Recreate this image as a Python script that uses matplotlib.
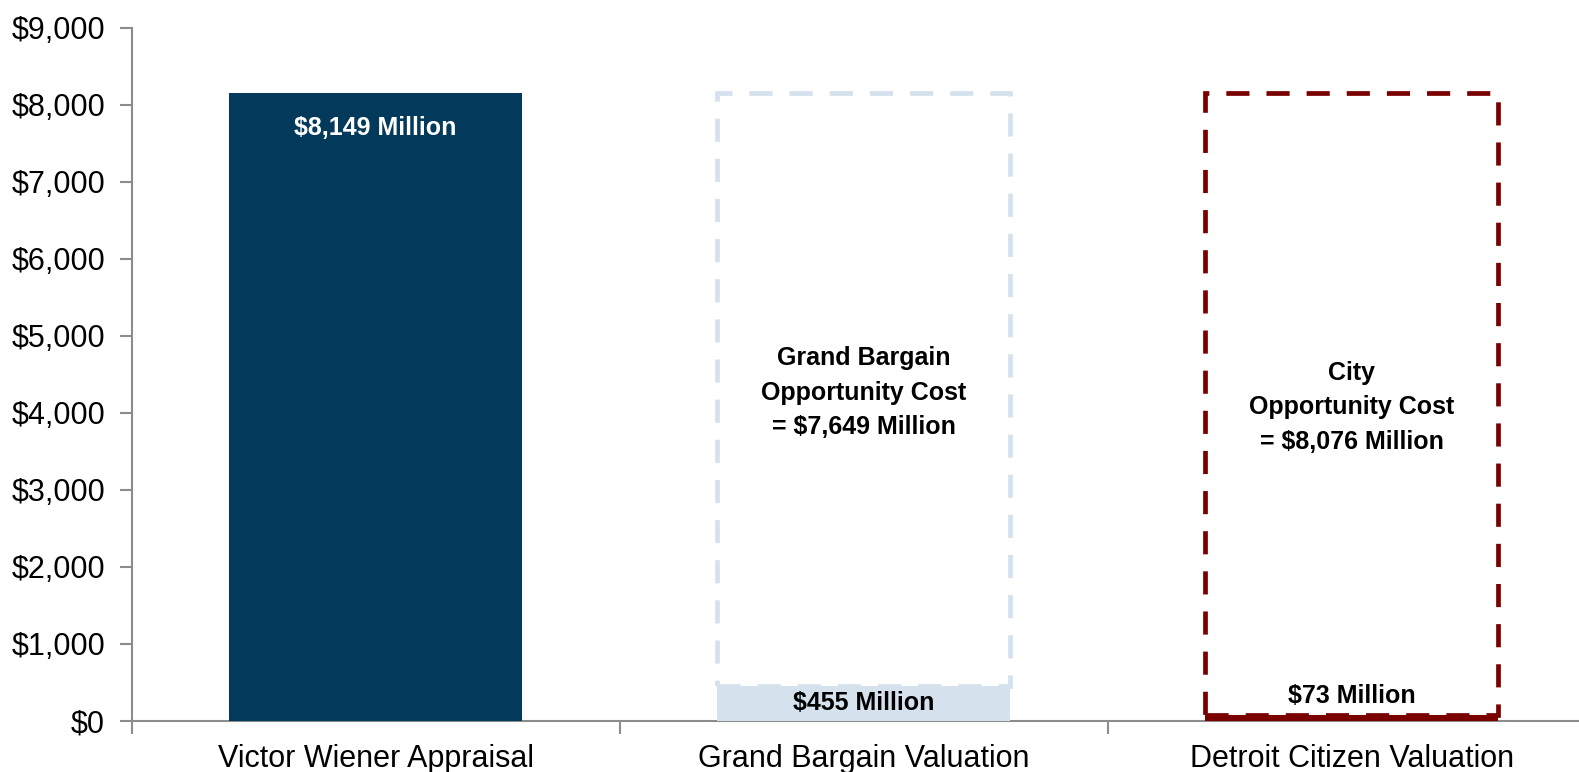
import matplotlib
matplotlib.use("Agg")
import matplotlib.pyplot as plt
from matplotlib.patches import Rectangle
from matplotlib.ticker import FuncFormatter, FixedLocator

plt.rcParams['font.family'] = ['Liberation Sans', 'DejaVu Sans']

categories = ["Victor Wiener Appraisal", "Grand Bargain Valuation", "Detroit Citizen Valuation"]
appraisal_total = 8149
valuations = [8149, 455, 73]
opportunity_costs = [None, 7649, 8076]
cost_titles = [None, "Grand Bargain", "City"]
yticks = [0, 1000, 2000, 3000, 4000, 5000, 6000, 7000, 8000, 9000]

navy = "#03395A"
light_blue = "#D5E2ED"
maroon = "#7A0000"
axis_gray = "#8C8C8C"

fig = plt.figure(figsize=(15.79, 7.72), dpi=100)
ax = fig.add_axes([0.0833, 0.0665, 0.9274, 0.8973])

width = 0.6
x = list(range(len(categories)))
dash = (0, (4.9, 3.6))

# Appraisal bar
ax.bar(x[0], valuations[0], width=width, color=navy, zorder=2)
ax.annotate(f"${valuations[0]:,} Million", xy=(x[0], valuations[0]), xytext=(0, -25),
            textcoords="offset points", ha="center", va="center",
            color="white", fontsize=18, fontweight="bold")

# Grand Bargain valuation: filled part plus dashed outline up to the full appraisal
ax.bar(x[1], valuations[1], width=width, color=light_blue, zorder=2)
ax.add_patch(Rectangle((x[1] - width / 2, valuations[1]), width,
                       appraisal_total - valuations[1], fill=False,
                       edgecolor=light_blue, linewidth=3.4, linestyle=dash, zorder=3))
ax.text(x[1], valuations[1] / 2, f"${valuations[1]:,} Million", ha="center", va="center",
        fontsize=18, fontweight="bold", color="black", zorder=4)
ax.text(x[1], (valuations[1] + appraisal_total) / 2 - 40,
        f"{cost_titles[1]}\nOpportunity Cost\n= ${opportunity_costs[1]:,} Million",
        ha="center", va="center", fontsize=18, fontweight="bold", linespacing=1.55)

# Detroit citizen valuation: small filled part plus dashed outline
ax.bar(x[2], valuations[2], width=width, color=maroon, zorder=2)
ax.add_patch(Rectangle((x[2] - width / 2, valuations[2]), width,
                       appraisal_total - valuations[2], fill=False,
                       edgecolor=maroon, linewidth=3.4, linestyle=dash, zorder=3))
ax.text(x[2], valuations[2] + 250, f"${valuations[2]:,} Million", ha="center", va="center",
        fontsize=18, fontweight="bold", color="black", zorder=4)
ax.text(x[2], (valuations[2] + appraisal_total) / 2 - 40,
        f"{cost_titles[2]}\nOpportunity Cost\n= ${opportunity_costs[2]:,} Million",
        ha="center", va="center", fontsize=18, fontweight="bold", linespacing=1.55)

ax.set_xlim(-0.5, len(categories) - 0.5)
ax.set_ylim(0, 9000)
ax.set_yticks(yticks)
ax.yaxis.set_major_formatter(FuncFormatter(lambda v, p: f"${v:,.0f}"))

ax.set_xticks(x)
ax.set_xticklabels(categories)
ax.xaxis.set_minor_locator(FixedLocator([i - 0.5 for i in range(len(categories) + 1)]))
ax.tick_params(axis="x", which="major", length=0, labelsize=22, pad=17)
ax.tick_params(axis="x", which="minor", length=9, width=1.5, color=axis_gray, direction="out")
ax.tick_params(axis="y", length=9, width=1.5, color=axis_gray, labelsize=22, pad=10)

for side in ("top", "right"):
    ax.spines[side].set_visible(False)
for side in ("left", "bottom"):
    ax.spines[side].set_color(axis_gray)
    ax.spines[side].set_linewidth(1.5)
    ax.spines[side].set_zorder(1)

fig.savefig("out.png", dpi=100)
